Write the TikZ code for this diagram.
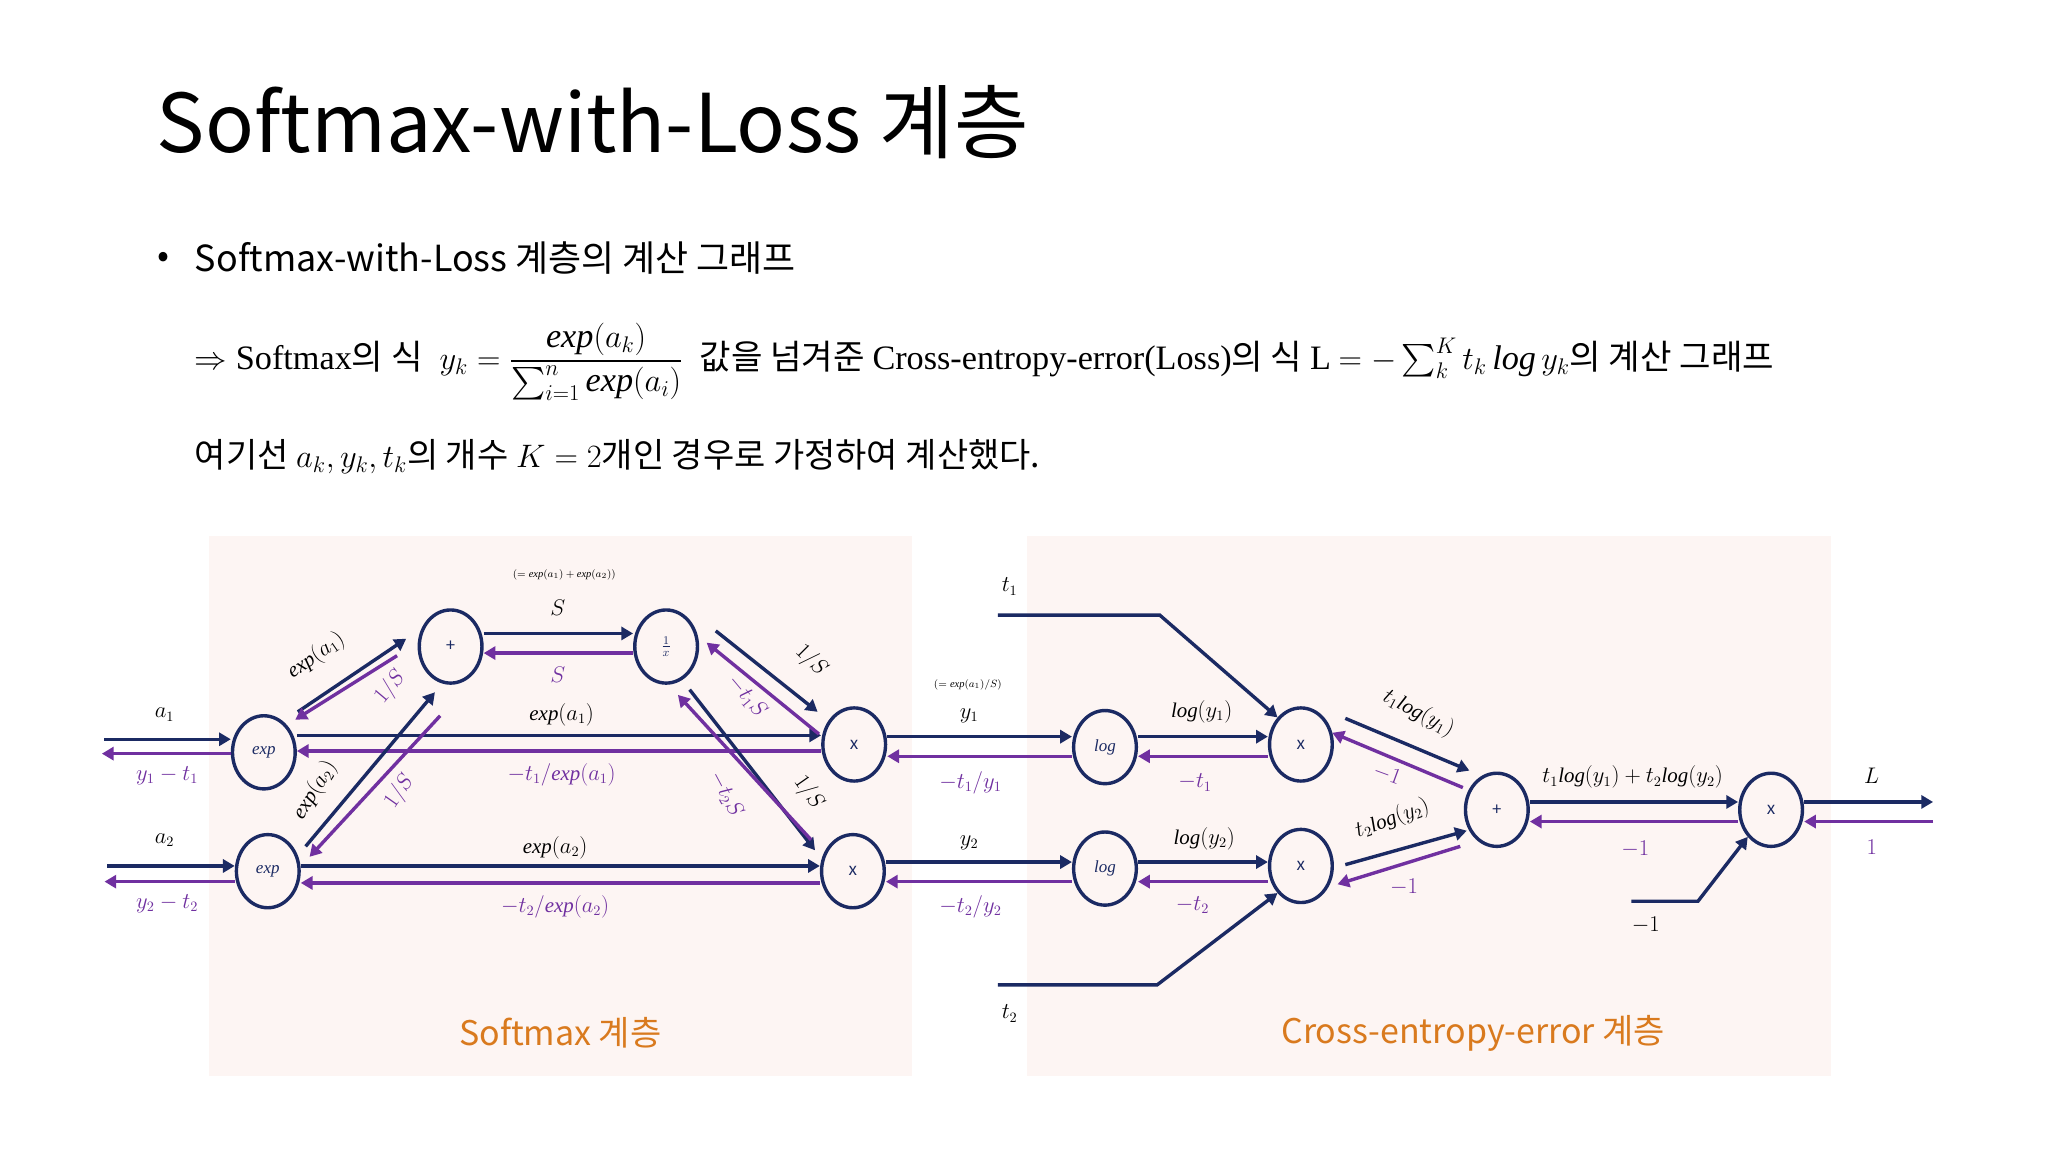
\documentclass[tikz,border=0pt]{standalone}
\usepackage{amsmath}
\usepackage{fontspec}
\setmainfont{Noto Sans CJK KR}
\newfontfamily\serifx{Liberation Serif}
\newcommand\ff[1]{\text{\serifx\itshape #1}}
\usetikzlibrary{arrows.meta,shapes.geometric}
\definecolor{navy}{HTML}{1B2A63}
\definecolor{purp}{HTML}{7030A0}
\definecolor{panel}{HTML}{FDF5F3}
\definecolor{orng}{HTML}{D97A1E}
\begin{document}
\begin{tikzpicture}[x=1pt,y=-1pt,
  nd/.style={ellipse,draw=navy,line width=2.6pt,minimum width=48,minimum height=56,inner sep=0,font=\fontsize{13}{13}\selectfont\color{navy}},
  fw/.style={navy,line width=2.6pt,-{Triangle[length=9,width=10]}},
  bw/.style={purp,line width=2.6pt,-{Triangle[length=9,width=10]}},
  lb/.style={font=\fontsize{16}{18}\selectfont,inner sep=0},
  pl/.style={lb,text=purp},
  sm/.style={font=\fontsize{8}{9}\selectfont,inner sep=0},
  pt/.style={font=\fontsize{26}{30}\selectfont,text=orng,inner sep=0}]
\useasboundingbox (0,0) rectangle (1568,882);
\fill[white] (0,0) rectangle (1568,882);
\fill[panel] (160,410) rectangle (698,824);
\fill[panel] (786,410) rectangle (1402,824);
% texts
\node[anchor=base west,inner sep=0,font=\fontsize{62}{66}\selectfont] (title) at (120,117) {Softmax-with-Loss 계층};
\node[inner sep=0,font=\fontsize{27}{30}\selectfont] (dot) at (125,199) {•};
\node[anchor=base west,inner sep=0,font=\fontsize{27.5}{30}\selectfont] (bul) at (149,208) {Softmax-with-Loss 계층의 계산 그래프};
\node[anchor=west,inner sep=0,font=\fontsize{26.2}{29}\selectfont] (l2) at (149,277) {{\serifx$\Rightarrow$ Softmax}의 식\; $y_k=\dfrac{\ff{exp}(a_k)}{\sum_{i=1}^{n}\ff{exp}(a_i)}$\; 값을 넘겨준 {\serifx Cross-entropy-error(Loss)}의 식 {\serifx L} $=-\sum_{k}^{K}t_k\,\ff{log}\,y_k$의 계산 그래프};
\node[anchor=base west,inner sep=0,font=\fontsize{26}{30}\selectfont] (l3) at (149,358) {여기선 $a_k,y_k,t_k$의 개수 $K=2$개인 경우로 가정하여 계산했다.};
\node[pt] (ps) at (429,791) {Softmax 계층};
\node[pt] (pc) at (1128,791) {Cross-entropy-error 계층};
% nodes
\node[nd] (e1) at (202,576) {$\ff{exp}$};
\node[nd] (e2) at (205,667) {$\ff{exp}$};
\node[nd] (p1) at (345,495) {+};
\node[nd] (iv) at (510,495) {$\frac{1}{x}$};
\node[nd] (m1) at (654,570) {x};
\node[nd] (m2) at (653,667) {x};
\node[nd] (g1) at (846,572) {$\ff{log}$};
\node[nd] (g2) at (846,665) {$\ff{log}$};
\node[nd] (n1) at (996,570) {x};
\node[nd] (n2) at (996,663) {x};
\node[nd] (p2) at (1146,620) {+};
\node[nd] (xl) at (1356,620) {x};
% free ends
\coordinate (a1i) at (80,566); \coordinate (a1o) at (78,577);
\coordinate (a2i) at (82,663); \coordinate (a2o) at (80,675);
\coordinate (Li) at (1480,614); \coordinate (Lo) at (1480,629);
\coordinate (t1s) at (764,471); \coordinate (t1b) at (888,471);
\coordinate (t2s) at (764,754); \coordinate (t2b) at (886,754);
\coordinate (ms) at (1249,690); \coordinate (mb) at (1300,690);
% horizontal pairs (yshift positive = up)
\draw[fw] (a1i) -- ([yshift=10]e1.west);
\draw[bw] ([yshift=-1]e1.west) -- (a1o);
\draw[fw] (a2i) -- ([yshift=4]e2.west);
\draw[bw] ([yshift=-8]e2.west) -- (a2o);
\draw[fw] ([yshift=13]e1.east) -- ([yshift=7]m1.west);
\draw[bw] ([yshift=-5]m1.west) -- ([yshift=1]e1.east);
\draw[fw] ([yshift=4]e2.east) -- ([yshift=4]m2.west);
\draw[bw] ([yshift=-9]m2.west) -- ([yshift=-9]e2.east);
\draw[fw] ([yshift=10]p1.east) -- ([yshift=10]iv.west);
\draw[bw] ([yshift=-5]iv.west) -- ([yshift=-5]p1.east);
\draw[fw] ([yshift=6]m1.east) -- ([yshift=8]g1.west);
\draw[bw] ([yshift=-7]g1.west) -- ([yshift=-9]m1.east);
\draw[fw] ([yshift=7]m2.east) -- ([yshift=5]g2.west);
\draw[bw] ([yshift=-10]g2.west) -- ([yshift=-8]m2.east);
\draw[fw] ([yshift=8]g1.east) -- ([yshift=6]n1.west);
\draw[bw] ([yshift=-9]n1.west) -- ([yshift=-7]g1.east);
\draw[fw] ([yshift=5]g2.east) -- ([yshift=3]n2.west);
\draw[bw] ([yshift=-12]n2.west) -- ([yshift=-10]g2.east);
\draw[fw] ([yshift=6]p2.east) -- ([yshift=6]xl.west);
\draw[bw] ([yshift=-9]xl.west) -- ([yshift=-9]p2.east);
\draw[fw] ([yshift=6]xl.east) -- (Li);
\draw[bw] (Lo) -- ([yshift=-9]xl.east);
% diagonals
\draw[fw] (228,545) -- (311,489);
\draw[bw] (304,502) -- (226,551);
\draw[fw] (234,648) -- (333,530);
\draw[bw] (337,548) -- (237,656);
\draw[fw] (548,483) -- (626,545);
\draw[bw] (627,562) -- (541,492);
\draw[fw] (528,528) -- (624,651);
\draw[bw] (621,643) -- (519,532);
\draw[fw] (1030,550) -- (1125,590);
\draw[bw] (1120,603) -- (1020,561);
\draw[fw] (1030,662) -- (1123,636);
\draw[bw] (1118,648) -- (1024,677);
\draw[fw] (t1s) -- (t1b) -- (n1.north west);
\draw[fw] (t2s) -- (t2b) -- (n2.south west);
\draw[fw] (ms) -- (mb) -- (xl.south west);
% labels
\node[lb] at (126,547) {$a_1$};
\node[pl] at (128,594) {$y_1-t_1$};
\node[lb] at (126,643) {$a_2$};
\node[pl] at (128,692) {$y_2-t_2$};
\node[lb] at (430,547) {$\ff{exp}(a_1)$};
\node[pl] at (430,593) {$-t_1/\ff{exp}(a_1)$};
\node[lb] at (425,649) {$\ff{exp}(a_2)$};
\node[pl] at (425,694) {$-t_2/\ff{exp}(a_2)$};
\node[lb,rotate=35] at (242,502) {$\ff{exp}(a_1)$};
\node[pl,rotate=50] at (299,526) {$1/S$};
\node[lb,rotate=58] at (241,605) {$\ff{exp}(a_2)$};
\node[pl,rotate=55] at (306,606) {$1/S$};
\node[lb] at (427,465) {$S$};
\node[pl] at (427,517) {$S$};
\node[sm] at (432,440) {$(=\ff{exp}(a_1)+\ff{exp}(a_2))$};
\node[lb,rotate=-45] at (621,506) {$1/S$};
\node[pl,rotate=-50] at (572,533) {$-t_1S$};
\node[lb,rotate=-55] at (619,607) {$1/S$};
\node[pl,rotate=-62] at (556,608) {$-t_2S$};
\node[sm] at (741,524) {$(=\ff{exp}(a_1)/S)$};
\node[lb] at (742,548) {$y_1$};
\node[pl] at (743,599) {$-t_1/y_1$};
\node[lb] at (742,645) {$y_2$};
\node[pl] at (743,694) {$-t_2/y_2$};
\node[lb] at (920,545) {$\ff{log}(y_1)$};
\node[pl] at (915,599) {$-t_1$};
\node[lb] at (922,642) {$\ff{log}(y_2)$};
\node[pl] at (913,693) {$-t_2$};
\node[lb] at (773,449) {$t_1$};
\node[lb] at (773,776) {$t_2$};
\node[lb,rotate=-28] at (1086,546) {$t_1\ff{log}(y_1)$};
\node[pl,rotate=-20] at (1062,593) {$-1$};
\node[lb,rotate=20] at (1066,627) {$t_2\ff{log}(y_2)$};
\node[pl] at (1075,679) {$-1$};
\node[lb] at (1250,595) {$t_1\ff{log}(y_1)+t_2\ff{log}(y_2)$};
\node[pl] at (1252,650) {$-1$};
\node[lb] at (1260,708) {$-1$};
\node[lb] at (1433,594) {$L$};
\node[pl] at (1433,649) {$1$};
\end{tikzpicture}
\end{document}
